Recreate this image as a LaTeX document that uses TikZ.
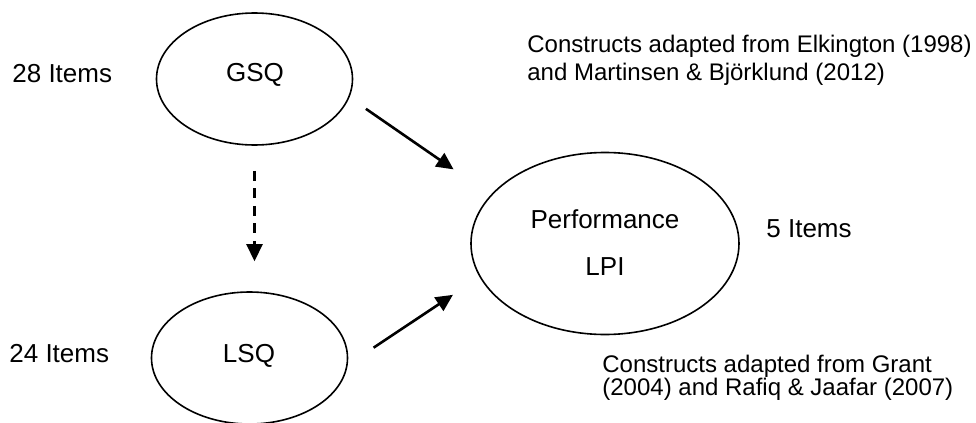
\documentclass[tikz,border=0pt]{standalone}
\usepackage{fontspec}
\setmainfont{Liberation Sans}
\usetikzlibrary{shapes.geometric,arrows.meta}
\begin{document}
\begin{tikzpicture}[x=0.5pt,y=-0.5pt,
  oval/.style={draw, ellipse, line width=0.8pt, inner sep=0pt},
  lbl/.style={font=\fontsize{13}{15}\selectfont, inner sep=0pt, anchor=base},
  src/.style={font=\fontsize{12}{14}\selectfont, inner sep=0pt, anchor=base west},
  arr/.style={-{Triangle[length=8.5pt,width=8pt]}, line width=1.3pt},
  dsh/.style={dash pattern=on 5pt off 3.75pt}
]
\useasboundingbox (0,0) rectangle (976,423);
% ellipses
\node[oval, minimum width=98pt, minimum height=66pt] (gsq) at (254.5,79) {};
\node[oval, minimum width=98pt, minimum height=66pt] (lsq) at (249.5,358) {};
\node[oval, minimum width=134pt, minimum height=91pt] (perf) at (605,243.5) {};
% texts in ellipses
\node[lbl] (gsqt) at (255,82) {GSQ};
\node[lbl] (lsqt) at (249,362) {LSQ};
\node[lbl] (perft) at (605,228) {Performance};
\node[lbl] (lpit) at (605,275) {LPI};
% item counts
\node[lbl, anchor=base west] (i28) at (12,83) {28 Items};
\node[lbl, anchor=base west] (i24) at (9,362) {24 Items};
\node[lbl, anchor=base west] (i5) at (766,237) {5 Items};
% sources
\node[src] (s1a) at (527,53) {Constructs adapted from Elkington (1998)};
\node[src] (s1b) at (527,80) {and Martinsen \& Björklund (2012)};
\node[src] (s2a) at (602,372) {Constructs adapted from Grant};
\node[src] (s2b) at (602,395) {(2004) and Rafiq \& Jaafar (2007)};
% connectors
\draw[arr, shorten <=10pt, shorten >=22.5pt] (gsq.-11.8) -- (perf.157.4);
\draw[arr, shorten <=15.5pt, shorten >=16pt] (lsq.-4.4) -- (perf.-165.7);
\draw[arr, dsh, shorten <=12.5pt, shorten >=15pt] (gsq.south) -- (gsq.south |- lsq.north);
\end{tikzpicture}
\end{document}
